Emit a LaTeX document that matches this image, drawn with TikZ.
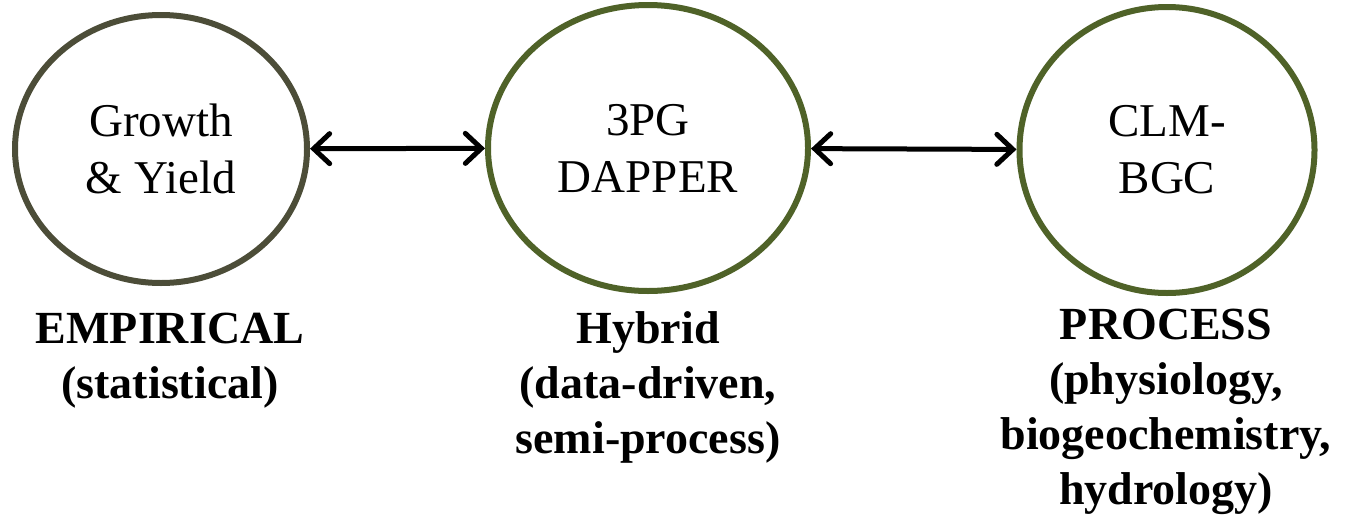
\documentclass[tikz,border=0pt]{standalone}
\usepackage{fontspec}
\setmainfont{Liberation Serif}
\usetikzlibrary{shapes.geometric, arrows.meta, positioning}

\definecolor{gygrey}{RGB}{76,77,56}
\definecolor{olive}{RGB}{79,98,40}

\begin{document}
\begin{tikzpicture}[x=1pt, y=-1pt,
  model/.style={ellipse, draw=olive, line width=6pt, inner sep=0pt, align=center,
    font=\fontsize{47}{57}\selectfont},
  caption/.style={anchor=north, inner sep=0pt, align=center,
    font=\fontsize{46}{55}\selectfont\bfseries},
  link/.style={line width=5pt, line cap=round,
    {Straight Barb[length=16pt, width=30pt, line cap=round]}-{Straight Barb[length=16pt, width=30pt, line cap=round]}}]
  \useasboundingbox (0,0) rectangle (1346,525);
  \node[model, draw=gygrey, minimum width=292pt, minimum height=268pt] (gy) at (161,149) {Growth\\\& Yield};
  \node[model, minimum width=320pt, minimum height=286pt] (dap) at (648,148) {3PG\\DAPPER};
  \node[model, minimum width=295pt, minimum height=286pt] (clm) at (1167,150) {CLM-\\BGC};
  \node[caption] (emp) at (170,313) {EMPIRICAL\\(statistical)};
  \node[caption] (hyb) at (648,311) {Hybrid\\(data-driven,\\semi-process)};
  \node[caption] (proc) at (1166,309) {PROCESS\\(physiology,\\biogeochemistry,\\hydrology)};
  \path[link]
    (gy) edge (dap)
    (dap) edge (clm);
\end{tikzpicture}
\end{document}
